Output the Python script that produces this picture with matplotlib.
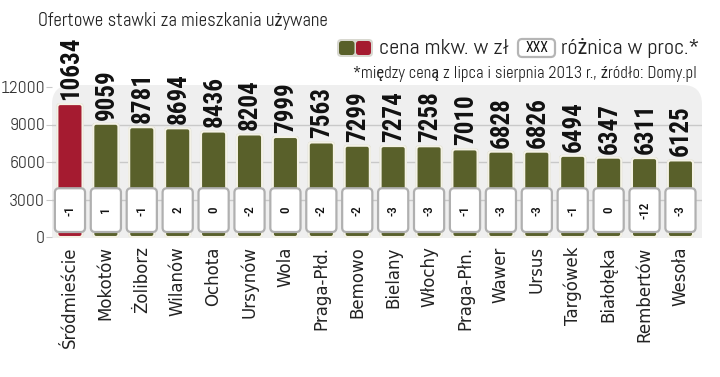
import matplotlib
matplotlib.use("Agg")
import matplotlib.pyplot as plt
from matplotlib.patches import FancyBboxPatch

districts = ["Śródmieście", "Mokotów", "Żoliborz", "Wilanów", "Ochota", "Ursynów",
             "Wola", "Praga-Płd.", "Bemowo", "Bielany", "Włochy", "Praga-Płn.",
             "Wawer", "Ursus", "Targówek", "Białołęka", "Rembertów", "Wesoła"]
prices = [10634, 9059, 8781, 8694, 8436, 8204, 7999, 7563, 7299, 7274, 7258,
          7010, 6828, 6826, 6494, 6347, 6311, 6125]
changes = [-1, 1, -1, 2, 0, -2, 0, -2, -2, -3, -3, -1, -3, -3, -1, 0, -12, -3]
yticks = [0, 3000, 6000, 9000, 12000]

OLIVE = "#59602a"
RED = "#a51b30"
LIGHT = ["Abel", "Roboto Condensed", "DejaVu Sans"]
BOLDC = ["Roboto Condensed", "DejaVu Sans"]

fig = plt.figure(figsize=(7.2, 3.77), dpi=100)
ax = fig.add_axes([52/720, (377-238)/377, (702-52)/720, (238-85)/377])
ax.set_xlim(-0.5, 17.6)
ax.set_ylim(-80, 12160)
ax.set_facecolor("none")
for s in ax.spines.values():
    s.set_visible(False)

bg = FancyBboxPatch((0, -0.2), 1, 1.2, transform=ax.transAxes,
                    boxstyle="round,pad=0,rounding_size=0.03",
                    mutation_aspect=650/153,
                    facecolor="#efefef", edgecolor="none", zorder=0)
ax.add_patch(bg)

ax.set_yticks(yticks)
ax.set_yticklabels([str(t) for t in yticks], family=LIGHT, fontsize=12.5, color="#333333")
for t in yticks[1:4]:
    ax.axhline(t, color="#c9c9c9", lw=1, zorder=1)
ax.tick_params(axis="y", length=4, color="#c9c9c9", pad=1)

ax.set_xticks(range(len(districts)))
ax.set_xticklabels(districts, rotation=90, fontsize=12, color="#222222",
                   family="DejaVu Sans")
ax.tick_params(axis="x", length=0, pad=6)

asp = 80 * 35.9
bw = 0.7
for i, (v, c) in enumerate(zip(prices, changes)):
    col = RED if i == 0 else OLIVE
    ax.add_patch(FancyBboxPatch((i - bw/2 - 0.03, -40), bw + 0.06, v + 120,
                                boxstyle="round,pad=0,rounding_size=0.1",
                                mutation_aspect=asp, facecolor="#d5d5cc",
                                edgecolor="none", zorder=2))
    ax.add_patch(FancyBboxPatch((i - bw/2, 0), bw, v,
                                boxstyle="round,pad=0,rounding_size=0.08",
                                mutation_aspect=asp, facecolor=col,
                                edgecolor="#f4f2e6", lw=1.5, zorder=3))
    ax.text(i + 0.02, v + 330, str(v), rotation=90, ha="center", va="bottom",
            family=BOLDC, fontweight="bold", fontsize=18, color="#111111", zorder=5)
    bx = 0.84
    ax.add_patch(FancyBboxPatch((i - bx/2, 400), bx, 3500,
                                boxstyle="round,pad=0,rounding_size=0.12",
                                mutation_aspect=asp, facecolor="white",
                                edgecolor="#b0b0b0", lw=1.6, zorder=4))
    ax.text(i, 2150, str(c), rotation=90, ha="center", va="center",
            fontsize=9.5, color="#111111", zorder=5, family=BOLDC, fontweight="medium")

fig.text(38/720, 1 - 21/377, "Ofertowe stawki za mieszkania używane",
         family=LIGHT, fontsize=13.5, color="#222222", va="center", ha="left")

def fig_box(x0, y0, x1, y1, fc, ec, lw, r):
    p = FancyBboxPatch((x0/720, 1 - y1/377), (x1 - x0)/720, (y1 - y0)/377,
                       transform=fig.transFigure,
                       boxstyle=f"round,pad=0,rounding_size={r}",
                       mutation_aspect=720/377, facecolor=fc, edgecolor=ec, lw=lw)
    fig.patches.append(p)

fig_box(337, 39, 373, 57, "#d8d8d0", "none", 0, 0.006)
fig_box(339, 41, 354.5, 55, OLIVE, "none", 0, 0.004)
fig_box(356, 41, 371, 55, RED, "none", 0, 0.004)
fig.text(379/720, 1 - 48/377, "cena mkw. w zł", family=LIGHT, fontsize=16,
         color="#222222", va="center", ha="left")
fig_box(518, 39, 555, 57, "white", "#b5b5b5", 1.6, 0.006)
fig.text(536.5/720, 1 - 48/377, "XXX", family=BOLDC, fontsize=10,
         color="#111111", va="center", ha="center")
fig.text(561/720, 1 - 48/377, "różnica w proc.*", family=LIGHT, fontsize=16,
         color="#222222", va="center", ha="left")
fig.text(697/720, 1 - 74/377, "*między ceną z lipca i sierpnia 2013 r., źródło: Domy.pl",
         family=LIGHT, fontsize=12, color="#222222", va="center", ha="right")

fig.savefig("out.png", dpi=100, facecolor="white")
